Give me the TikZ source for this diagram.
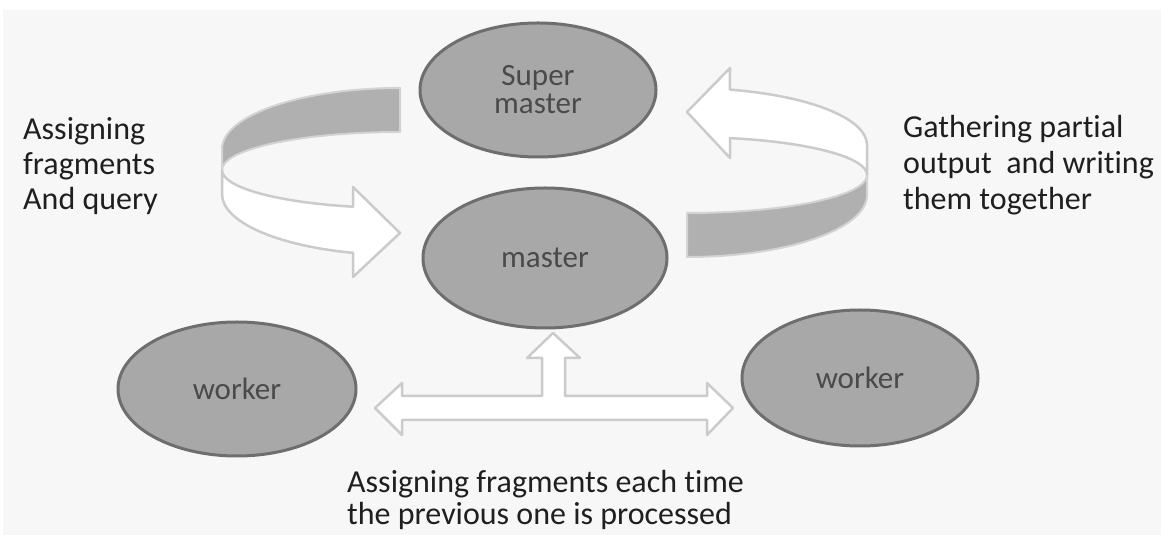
\documentclass[tikz,border=0pt]{standalone}
\usepackage{fontspec}
\setmainfont{Carlito}[Ligatures=NoCommon]
\usetikzlibrary{shapes.geometric}

\definecolor{paper}{HTML}{F7F7F7}
\definecolor{nodegray}{HTML}{A8A8A8}
\definecolor{rimgray}{HTML}{6E6E6E}
\definecolor{bandgray}{HTML}{B0B0B0}
\definecolor{bandrim}{HTML}{CBCBCB}
\definecolor{inktext}{HTML}{4A4A4A}

\begin{document}
\begin{tikzpicture}[x=1pt, y=1pt,
  role/.style={
    ellipse, draw=rimgray, line width=3pt,
    fill=nodegray, text=inktext, inner sep=0pt,
    align=center, font=\fontsize{31}{28}\selectfont,
  },
  note/.style={
    align=left, inner sep=0pt, text=black!88,
    font=\fontsize{32}{35}\selectfont,
  },
  frontband/.style={fill=white, draw=bandrim, line width=2.5pt, line join=round},
  backband/.style={fill=bandgray, draw=bandrim!85, line width=2pt, line join=round},
]

% ---- Canvas ----
\useasboundingbox (0,0) rectangle (1161,535);
\clip (0,0) rectangle (1161,535);
\fill[white] (0,0) rectangle (1161,535);
\fill[paper] (3,0) rectangle (1161,525);

% ---- Left ring arrow (assign) ----
\draw[backband] (400,447) arc[start angle=90, end angle=180, x radius=178, y radius=61]
  -- (222,365) arc[start angle=180, end angle=90, x radius=178, y radius=38] -- cycle;
\draw[frontband] (222,365) -- (222,341)
  arc[start angle=180, end angle=254.7, x radius=178, y radius=61]
  -- (353,258) -- (400,302) -- (353,348) -- (353,328.3)
  arc[start angle=254.7, end angle=180, x radius=178, y radius=38] -- cycle;

% ---- Right ring arrow (gather) ----
\draw[frontband] (867,360) -- (867,390)
  arc[start angle=0, end angle=76.2, x radius=180, y radius=57]
  -- (730,467) -- (687,423) -- (730,377) -- (730,396.9)
  arc[start angle=76.2, end angle=0, x radius=180, y radius=38] -- cycle;
\draw[backband] (867,360) arc[start angle=0, end angle=-90, x radius=180, y radius=38]
  -- (687,278) arc[start angle=270, end angle=360, x radius=180, y radius=62] -- cycle;

% ---- T arrow between workers and master ----
\draw[frontband] (375,127) -- (402,152) -- (402,139) -- (542,139) -- (542,177)
  -- (527,177) -- (553,202) -- (580,177) -- (565,177) -- (565,139) -- (707,139)
  -- (707,152) -- (733,127) -- (707,100) -- (707,115) -- (402,115) -- (402,100) -- cycle;

% ---- Nodes ----
\node[role, minimum width=236pt, minimum height=134pt] (super) at (538,445) {Super\\master};
\node[role, minimum width=244pt, minimum height=140pt] (master) at (545,277) {master};
\node[role, minimum width=238pt, minimum height=134pt] (workerL) at (237,146) {worker};
\node[role, minimum width=236pt, minimum height=136pt] (workerR) at (860,157) {worker};

% ---- Labels (base = last line) ----
\node[note, anchor=base west] (assignlbl) at (23,325) {Assigning\\fragments\\And query};
\node[note, anchor=base west, font=\fontsize{32}{36}\selectfont] (gatherlbl) at (903,325)
  {Gathering partial\\output\ \ and writing\\them together};
\node[note, anchor=base west, font=\fontsize{32}{32}\selectfont] (eachlbl) at (347,10)
  {Assigning fragments each time\\the previous one is processed};

\end{tikzpicture}
\end{document}
